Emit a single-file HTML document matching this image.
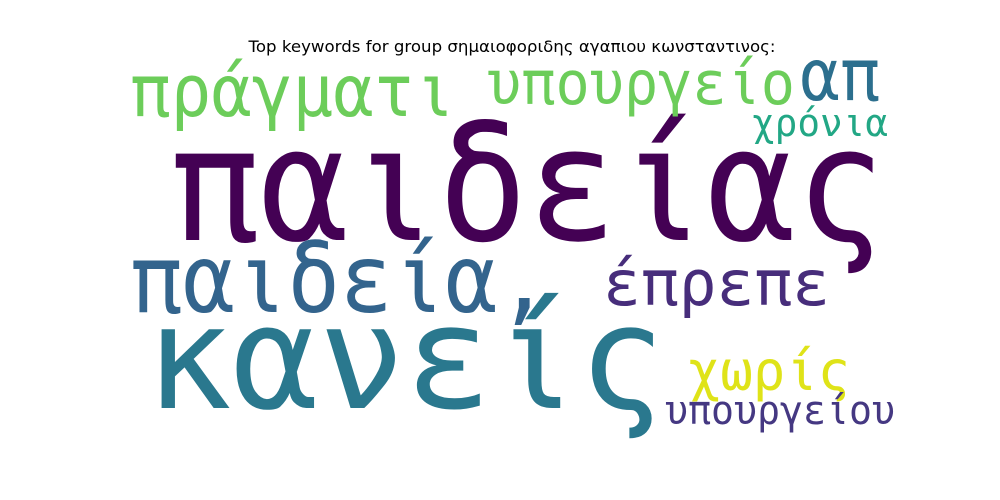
<!DOCTYPE html>
<html>
<head>
<meta charset="utf-8">
<style>
  html, body { margin: 0; padding: 0; background: #fff; }
  svg { display: block; }
  .w { font-family: "DejaVu Sans Mono", "Liberation Mono", monospace; }
</style>
</head>
<body>
<svg width="1000" height="500" viewBox="0 0 1000 500">
  <rect width="1000" height="500" fill="#ffffff"/>
  <text x="512" y="52" text-anchor="middle" font-family="DejaVu Sans, Liberation Sans, sans-serif" font-size="16" textLength="527" lengthAdjust="spacingAndGlyphs" fill="#000">Top keywords for group σημαιοφοριδης αγαπιου κωνσταντινος:</text>
  <g id="words"></g>
</svg>
<script>
const words = ["παιδείας","κανείς","πράγματι","υπουργείο","απ","χρόνια","παιδεία,","έπρεπε","χωρίς","υπουργείου"];
const sizes = [158, 144, 72, 60, 72, 38, 94, 63, 55, 40];
const colors = ["#440154","#2a788e","#6ccd5a","#6ccd5a","#2c6f8e","#22a785","#33648d","#472d7b","#dfe318","#453882"];
const boxX = [170, 145, 130, 487, 800, 752, 130, 603, 688, 665];
const boxW = [715, 520, 325, 308, 80, 136, 420, 227, 162, 230];
const baseY = [240, 408, 116, 104, 100, 136, 312, 305, 390, 424];
const g = document.getElementById('words');
const NS = 'http://www.w3.org/2000/svg';
for (let i = 0; i < words.length; i++) {
  const t = document.createElementNS(NS, 'text');
  t.setAttribute('class', 'w');
  t.setAttribute('x', boxX[i]);
  t.setAttribute('y', baseY[i]);
  t.setAttribute('font-size', sizes[i]);
  t.setAttribute('fill', colors[i]);
  t.setAttribute('textLength', boxW[i]);
  t.setAttribute('lengthAdjust', 'spacingAndGlyphs');
  t.textContent = words[i];
  
  
  g.appendChild(t);
}
</script>
</body>
</html>
